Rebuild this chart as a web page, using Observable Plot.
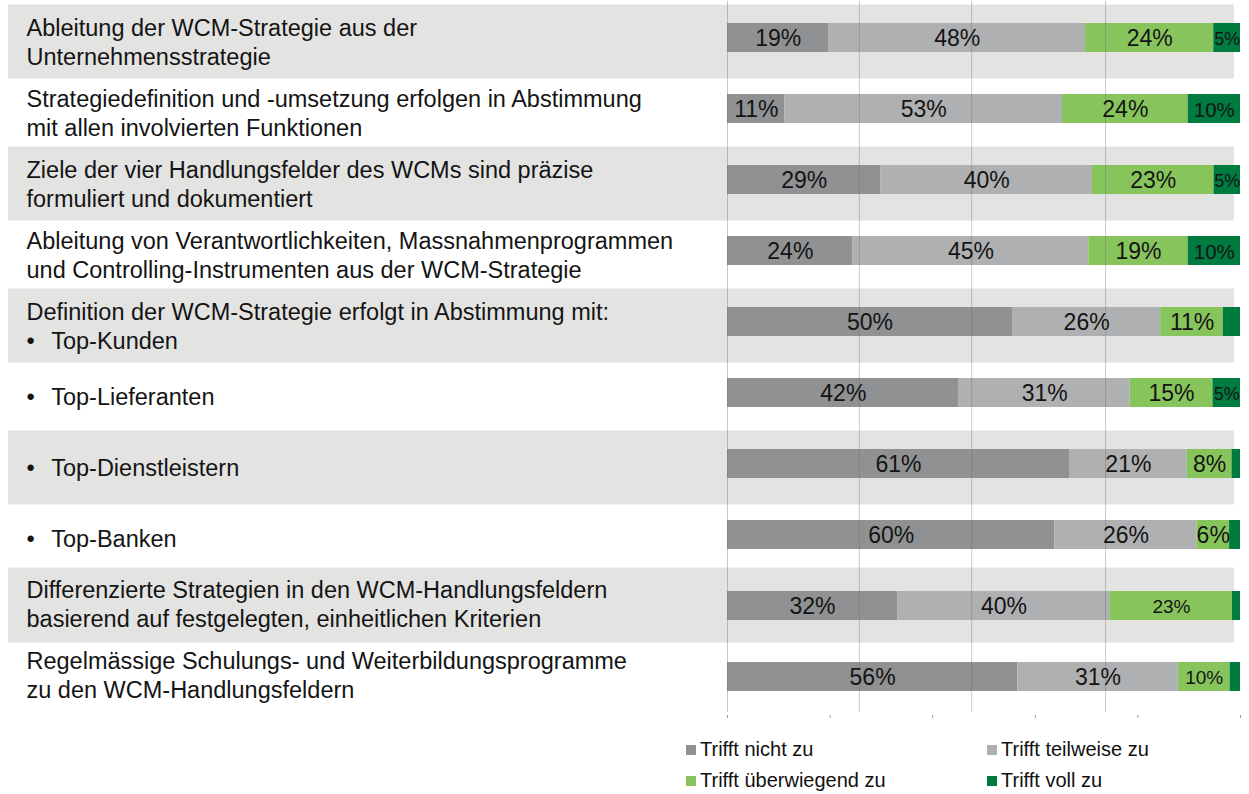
<!DOCTYPE html>
<html><head><meta charset="utf-8">
<script src="https://cdn.jsdelivr.net/npm/d3@7"></script>
<script src="https://cdn.jsdelivr.net/npm/@observablehq/plot@0.6"></script>
<style>
body{margin:0;background:#fff;font-family:"Liberation Sans",Arial,sans-serif;}
#chart{position:relative;width:1249px;height:794px;overflow:hidden;}
#chart svg{position:absolute;left:0;top:0;}
.legend{position:absolute;left:686px;top:734px;display:grid;grid-template-columns:301px 260px;grid-auto-rows:31px;}
.legend .item{display:flex;align-items:center;font-size:20px;color:#111;white-space:nowrap;}
.legend .sw{width:10px;height:10px;margin-right:4px;flex:none;}
</style></head><body><div id="chart"></div><script>
const categories = [
  "Ableitung der WCM-Strategie aus der\nUnternehmensstrategie",
  "Strategiedefinition und -umsetzung erfolgen in Abstimmung\nmit allen involvierten Funktionen",
  "Ziele der vier Handlungsfelder des WCMs sind präzise\nformuliert und dokumentiert",
  "Ableitung von Verantwortlichkeiten, Massnahmenprogrammen\nund Controlling-Instrumenten aus der WCM-Strategie",
  "Definition der WCM-Strategie erfolgt in Abstimmung mit:\n•\u2002\u2009Top-Kunden",
  "•\u2002\u2009Top-Lieferanten",
  "•\u2002\u2009Top-Dienstleistern",
  "•\u2002\u2009Top-Banken",
  "Differenzierte Strategien in den WCM-Handlungsfeldern\nbasierend auf festgelegten, einheitlichen Kriterien",
  "Regelmässige Schulungs- und Weiterbildungsprogramme\nzu den WCM-Handlungsfeldern"
];
const seriesNames = ["Trifft nicht zu", "Trifft teilweise zu", "Trifft überwiegend zu", "Trifft voll zu"];
const trifftNicht        = [19, 11, 29, 24, 50, 42, 61, 60, 32, 56];
const trifftTeilweise    = [48, 53, 40, 45, 26, 31, 21, 26, 40, 31];
const trifftUeberwiegend = [24, 24, 23, 19, 11, 15,  8,  6, 23, 10];
const trifftVoll         = [ 5, 10,  5, 10,  3,  5, 1.5, 2, 1.5, 2];
const seriesColors = ["#909192", "#afb0b1", "#87c55c", "#007b3f"];
const referenceLines = [0, 0.257, 0.476, 0.737];
const xTicks = [0, 0.2, 0.4, 0.6, 0.8, 1];

const seriesValues = [trifftNicht, trifftTeilweise, trifftUeberwiegend, trifftVoll];
const rows = categories.flatMap((cat, i) =>
  seriesNames.map((key, j) => ({cat, idx: i, key, value: seriesValues[j][i]})));
const shadedUpper = categories.filter((d, i) => i % 2 === 0 && i < 8);
const shadedLower = categories.filter((d, i) => i % 2 === 0 && i >= 8);
const upperLabels = categories.slice(0, 8);
const lowerLabels = categories.slice(8);

function labelSize(d) {
  if (d.key === "Trifft voll zu") return d.value <= 5 ? 18 : 20.5;
  if (d.key === "Trifft überwiegend zu" && d.idx >= 8) return 19;
  return 23;
}

const catText = {
  y: d => d, text: d => d, frameAnchor: "left", textAnchor: "start",
  dx: 18, fontSize: 23.5, lineHeight: 1.24, fill: "#141414"
};

const chart = Plot.plot({
  width: 1249,
  height: 722,
  marginLeft: 8,
  marginRight: 9,
  marginTop: 1,
  marginBottom: 10,
  style: {fontFamily: "'Liberation Sans', Arial, sans-serif", background: "transparent"},
  x: {domain: [0, 1], range: [727, 1240], axis: null, label: null},
  y: {domain: categories, range: [1, 712], padding: 0, axis: null},
  color: {domain: seriesNames, range: seriesColors},
  marks: [
    Plot.cell(shadedUpper, {y: d => d, fill: "#e3e3e2", insetTop: 2.5, insetBottom: -5.5, insetRight: 6}),
    Plot.cell(shadedLower, {y: d => d, fill: "#e3e3e2", insetTop: -2.5, insetBottom: -1.5, insetRight: 6}),
    Plot.barX(rows, Plot.stackX({
      x: "value", y: "cat", fill: "key", order: seriesNames, offset: "normalize",
      insetTop: 21, insetBottom: 21
    })),
    Plot.ruleX(referenceLines, {x: d => d, stroke: "#6e6e6e", strokeOpacity: 0.38, strokeWidth: 1}),
    Plot.text(rows, Plot.stackX({
      x: "value", y: "cat", z: "key", order: seriesNames, offset: "normalize",
      text: d => d.value >= 5 ? `${d.value}%` : "",
      fontSize: labelSize, fill: "#141414", dy: 1
    })),
    Plot.text(upperLabels, {...catText, dy: 3}),
    Plot.text(lowerLabels, {...catText, dy: -3}),
    Plot.axisX({ticks: xTicks, tickSize: 3, tickFormat: () => "", label: null, stroke: "#9a9a9a", dy: 3})
  ]
});
const host = document.getElementById("chart");
host.appendChild(chart);

const legend = document.createElement("div");
legend.className = "legend";
seriesNames.forEach((name, i) => {
  const item = document.createElement("div");
  item.className = "item";
  const sw = document.createElement("span");
  sw.className = "sw";
  sw.style.background = seriesColors[i];
  item.appendChild(sw);
  item.appendChild(document.createTextNode(name));
  legend.appendChild(item);
});
host.appendChild(legend);
</script></body></html>
